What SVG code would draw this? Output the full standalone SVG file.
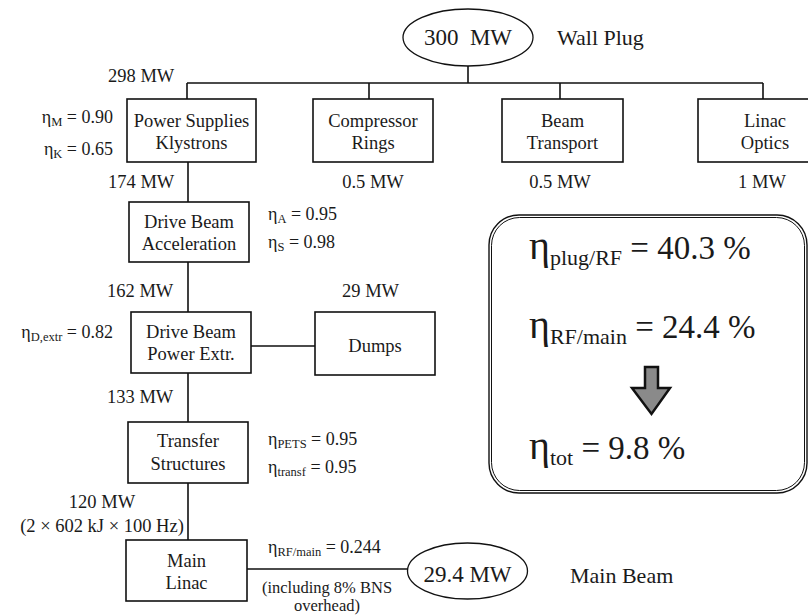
<svg xmlns="http://www.w3.org/2000/svg" width="808" height="615" viewBox="0 0 808 615" font-family="'Liberation Serif', 'DejaVu Serif', serif">
<style>
text{fill:#1a1a1a}
.box{fill:#fff;stroke:#111;stroke-width:1.6}
.bt{font-size:18.5px;text-anchor:middle}
.mw{font-size:18.5px}
.mwc{font-size:18.5px;text-anchor:middle}
.eta{font-size:18px}
.sub{font-size:12.5px}
.big{font-size:33px}
.bsub{font-size:22px}
.ell{fill:#fff;stroke:#111;stroke-width:1.3}
.con{stroke:#111;stroke-width:1.6;fill:none}
</style>
<g id="connectors" class="con">
<path d="M468 66V83M187 83H763M187 83V99M369 83V99M560 83V99M763 83V99"/>
<path d="M188 162V202M188 262V312M188 373V422M188 483V540"/>
<path d="M251 346H315M247 569H408"/>
</g>
<g id="wallplug">
<ellipse class="ell" cx="468" cy="37.5" rx="65" ry="28.5"/>
<text x="468" y="45" style="font-size:23px;text-anchor:middle" xml:space="preserve">300  MW</text>
<text x="557" y="45" style="font-size:22px">Wall Plug</text>
</g>
<text class="mw" x="108" y="82">298 MW</text>
<g id="power-supplies">
<rect class="box" x="127" y="99" width="129" height="63"/>
<text class="bt" x="191.5" y="127">Power Supplies</text>
<text class="bt" x="191.5" y="149">Klystrons</text>
</g>
<g id="compressor">
<rect class="box" x="313" y="99" width="120" height="63"/>
<text class="bt" x="373" y="127">Compressor</text>
<text class="bt" x="373" y="149">Rings</text>
</g>
<g id="beam-transport">
<rect class="box" x="502" y="99" width="121" height="63"/>
<text class="bt" x="562.5" y="127">Beam</text>
<text class="bt" x="562.5" y="149">Transport</text>
</g>
<g id="linac-optics">
<rect class="box" x="698" y="99" width="130" height="63"/>
<text class="bt" x="765" y="127">Linac</text>
<text class="bt" x="765" y="149">Optics</text>
</g>
<text class="eta" x="113" y="123" text-anchor="end">η<tspan class="sub" dy="3">M</tspan><tspan dy="-3"> = 0.90</tspan></text>
<text class="eta" x="113" y="155" text-anchor="end">η<tspan class="sub" dy="3">K</tspan><tspan dy="-3"> = 0.65</tspan></text>
<text class="mw" x="108" y="188">174 MW</text>
<text class="mwc" x="373" y="188">0.5 MW</text>
<text class="mwc" x="560" y="188">0.5 MW</text>
<text class="mwc" x="762" y="188">1 MW</text>
<g id="drive-beam-acc">
<rect class="box" x="129" y="202" width="120" height="60"/>
<text class="bt" x="189" y="228">Drive Beam</text>
<text class="bt" x="189" y="250">Acceleration</text>
</g>
<text class="eta" x="268" y="220">η<tspan class="sub" dy="3">A</tspan><tspan dy="-3"> = 0.95</tspan></text>
<text class="eta" x="268" y="248">η<tspan class="sub" dy="3">S</tspan><tspan dy="-3"> = 0.98</tspan></text>
<text class="mw" x="107" y="297">162 MW</text>
<text class="mw" x="342" y="297">29 MW</text>
<g id="drive-beam-extr">
<rect class="box" x="131" y="312" width="120" height="61"/>
<text class="bt" x="191" y="338">Drive Beam</text>
<text class="bt" x="191" y="360">Power Extr.</text>
</g>
<g id="dumps">
<rect class="box" x="315" y="312" width="120" height="63"/>
<text class="bt" x="375" y="352">Dumps</text>
</g>
<text class="eta" x="113" y="338" text-anchor="end">η<tspan class="sub" dy="3">D,extr</tspan><tspan dy="-3"> = 0.82</tspan></text>
<text class="mw" x="107" y="403">133 MW</text>
<g id="transfer">
<rect class="box" x="128" y="422" width="120" height="61"/>
<text class="bt" x="188" y="447">Transfer</text>
<text class="bt" x="188" y="470">Structures</text>
</g>
<text class="eta" x="268" y="445">η<tspan class="sub" dy="3">PETS</tspan><tspan dy="-3"> = 0.95</tspan></text>
<text class="eta" x="268" y="473">η<tspan class="sub" dy="3">transf</tspan><tspan dy="-3"> = 0.95</tspan></text>
<text class="mwc" x="102" y="508">120 MW</text>
<text class="mwc" x="102" y="532">(2 × 602 kJ × 100 Hz)</text>
<g id="main-linac">
<rect class="box" x="126" y="540" width="121" height="61"/>
<text class="bt" x="186.5" y="567">Main</text>
<text class="bt" x="186.5" y="589">Linac</text>
</g>
<text class="eta" x="268" y="553">η<tspan class="sub" dy="3">RF/main</tspan><tspan dy="-3"> = 0.244</tspan></text>
<text x="327" y="593" style="font-size:16.5px;text-anchor:middle">(including 8% BNS</text>
<text x="327" y="611" style="font-size:16.5px;text-anchor:middle">overhead)</text>
<g id="main-beam">
<ellipse class="ell" cx="467.5" cy="571" rx="60" ry="28"/>
<text x="467.5" y="582" style="font-size:23px;text-anchor:middle">29.4 MW</text>
<text x="570" y="583" style="font-size:22px">Main Beam</text>
</g>
<g id="summary">
<rect x="489" y="215" width="318" height="278" rx="30" fill="#fff" stroke="#111" stroke-width="1.4"/>
<rect x="491.5" y="217.5" width="313" height="273" rx="28" fill="none" stroke="#111" stroke-width="1"/>
<text class="big" x="529" y="259"><tspan style="font-size:40px">η</tspan><tspan class="bsub" dy="6">plug/RF</tspan><tspan dy="-6"> = 40.3 %</tspan></text>
<text class="big" x="529" y="338"><tspan style="font-size:40px">η</tspan><tspan class="bsub" dy="6">RF/main</tspan><tspan dy="-6"> = 24.4 %</tspan></text>
<text class="big" x="529" y="459"><tspan style="font-size:40px">η</tspan><tspan class="bsub" dy="6">tot</tspan><tspan dy="-6"> = 9.8 %</tspan></text>
<path d="M645 367H658V388H670L651.5 414L632 388H645Z" fill="#8a8a8a" stroke="#111" stroke-width="2.5" stroke-linejoin="miter"/>
</g>
</svg>
